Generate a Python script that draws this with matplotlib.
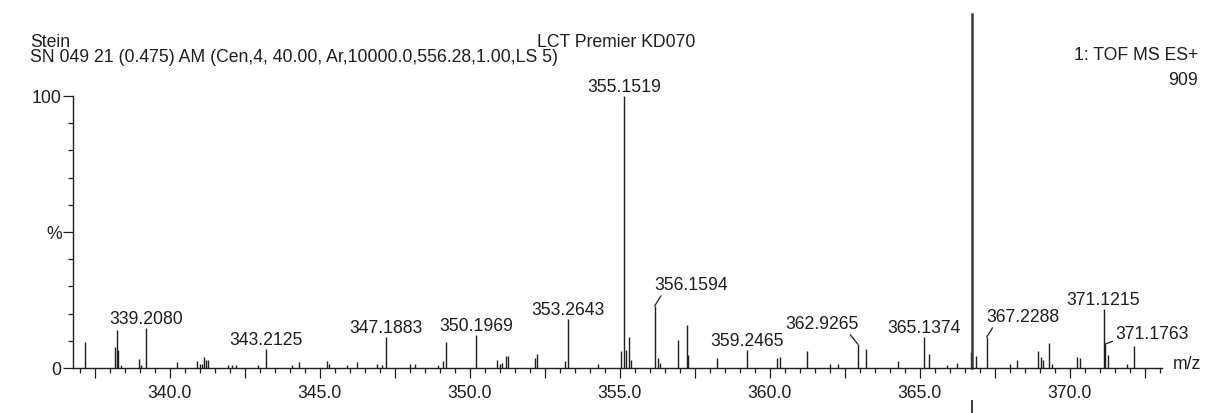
import matplotlib
matplotlib.use("Agg")
import matplotlib.pyplot as plt
from matplotlib.ticker import MultipleLocator, FixedLocator, FuncFormatter

plt.rcParams['font.family'] = ['Liberation Sans', 'DejaVu Sans']

# labelled peaks (m/z, % intensity)
label_mz = [339.2080, 343.2125, 347.1883, 350.1969, 353.2643, 355.1519,
            356.1594, 359.2465, 362.9265, 365.1374, 367.2288, 371.1215,
            371.1763]
label_int = [14.7, 7.0, 11.3, 12.0, 18.0, 100.0,
             22.8, 6.6, 8.8, 11.4, 11.4, 21.7,
             8.8]

# unlabelled peaks
other_mz = [337.17, 338.17, 338.23, 338.27, 338.37, 338.97, 339.03, 340.23,
            340.90, 341.00, 341.07, 341.13, 341.20, 341.27, 341.93, 342.07,
            342.20, 342.95, 344.07, 344.30, 345.23, 345.30, 345.90, 346.23,
            346.90, 347.07, 348.00, 348.17, 348.95, 349.10, 349.20, 350.90,
            351.00, 351.07, 351.20, 351.27, 352.17, 352.23, 353.17, 354.27,
            355.03, 355.20, 355.30, 355.37, 356.27, 356.33, 356.93, 357.23,
            357.27, 358.23, 360.23, 360.33, 361.23, 362.00, 362.27, 363.20,
            364.27, 365.30, 365.90, 366.23, 366.70, 366.87, 368.00, 368.23,
            368.93, 369.03, 369.10, 369.30, 369.40, 370.23, 370.33, 371.27,
            371.90, 372.13]
other_int = [9.5, 7.7, 14.0, 6.6, 1.1, 3.3, 1.2, 2.2,
             2.6, 1.5, 1.5, 4.0, 3.0, 3.0, 1.2, 1.0,
             1.2, 1.0, 1.0, 2.2, 2.6, 1.5, 1.0, 2.2,
             1.5, 1.2, 1.5, 1.5, 1.2, 2.6, 9.5, 3.0,
             1.5, 2.0, 4.4, 4.4, 3.5, 5.0, 2.6, 1.5,
             6.2, 6.6, 11.4, 3.0, 3.7, 2.0, 10.3, 15.8,
             4.9, 3.7, 3.7, 4.1, 6.2, 1.5, 1.5, 7.0,
             2.6, 5.1, 1.0, 2.0, 6.0, 4.5, 1.5, 2.9,
             6.3, 4.0, 3.0, 9.2, 1.5, 4.0, 3.5, 4.8,
             1.5, 8.0]

# labels drawn with a leader line: offset of the text in pixels, alignment, leader anchor
leaders = {
    356.1594: ((36, 17), 'center', (0.12, 0.0)),
    362.9265: ((-36, 16), 'center', (0.86, 0.0)),
    367.2288: ((36, 16), 'center', (0.11, 0.0)),
    371.1763: ((10, 6), 'left', (0.0, 0.1)),
}

crease_mz = 366.73  # fold line of the scanned sheet

W, H = 1218, 414
fig = plt.figure(figsize=(W / 100, H / 100), dpi=100)
x0, x1, y0, y1 = 73, 1162, 97, 369
ax = fig.add_axes([x0 / W, 1 - y1 / H, (x1 - x0) / W, (y1 - y0) / H])

ink = '#1e1e1e'
fs = 12.7
px = 0.72  # points per pixel

ax.vlines(other_mz, 0, other_int, color=ink, lw=1.0)
ax.vlines(label_mz, 0, label_int, color=ink, lw=1.0)

for mz, h in zip(label_mz, label_int):
    txt = f"{mz:.4f}"
    if mz in leaders:
        (dx, dy), ha, rel = leaders[mz]
        ax.annotate(txt, xy=(mz, h), xytext=(dx * px, dy * px),
                    textcoords='offset points', ha=ha, va='baseline',
                    fontsize=fs, color=ink,
                    arrowprops=dict(arrowstyle='-', color=ink, lw=0.9,
                                    shrinkA=0, shrinkB=0, relpos=rel))
    else:
        ax.annotate(txt, xy=(mz, h), xytext=(0, 5 * px),
                    textcoords='offset points', ha='center', va='baseline',
                    fontsize=fs, color=ink)

ax.set_xlim(336.77, 373.07)
ax.set_ylim(0, 100)

for s in ['top', 'right']:
    ax.spines[s].set_visible(False)
for s in ['left', 'bottom']:
    ax.spines[s].set_color(ink)
    ax.spines[s].set_linewidth(1.0)

ax.xaxis.set_major_locator(MultipleLocator(2.5))
ax.xaxis.set_minor_locator(MultipleLocator(0.5))
ax.xaxis.set_major_formatter(FuncFormatter(
    lambda v, p: f"{v:.1f}" if abs(v / 5 - round(v / 5)) < 1e-6 else ""))
ax.yaxis.set_major_locator(FixedLocator([0, 50, 100]))
ax.yaxis.set_minor_locator(MultipleLocator(10))
ax.yaxis.set_major_formatter(FuncFormatter(
    lambda v, p: {0: "0", 50: "%", 100: "100"}.get(int(round(v)), "")))

ax.tick_params(axis='both', which='major', direction='out', length=10 * px,
               width=0.9, color=ink, labelsize=fs, labelcolor=ink)
ax.tick_params(axis='both', which='minor', direction='out', length=5 * px,
               width=0.9, color=ink)
ax.tick_params(axis='x', which='major', pad=4)
ax.tick_params(axis='y', which='major', pad=1)

ax.text(1.0101, 0.015, "m/z", transform=ax.transAxes, ha='left', va='center',
        fontsize=fs, color=ink)

# scan crease
ax.axvline(crease_mz, ymin=0.0, ymax=1.3, clip_on=False, color='#3a3a3a', lw=1.8)
ax.axvline(crease_mz, ymin=-0.25, ymax=-0.12, clip_on=False, color='#3a3a3a', lw=1.4)

fig.text(30 / W, 1 - 47 / H, "Stein", ha='left', va='baseline', fontsize=fs, color=ink)
fig.text(30 / W, 1 - 62 / H,
         "SN 049 21 (0.475) AM (Cen,4, 40.00, Ar,10000.0,556.28,1.00,LS 5)",
         ha='left', va='baseline', fontsize=fs, color=ink)
fig.text(616 / W, 1 - 47 / H, "LCT Premier KD070", ha='center', va='baseline',
         fontsize=fs, color=ink)
fig.text(1198 / W, 1 - 60 / H, "1: TOF MS ES+", ha='right', va='baseline',
         fontsize=fs, color=ink)
fig.text(1198 / W, 1 - 85 / H, "909", ha='right', va='baseline', fontsize=fs, color=ink)

fig.savefig("out.png", dpi=100)
